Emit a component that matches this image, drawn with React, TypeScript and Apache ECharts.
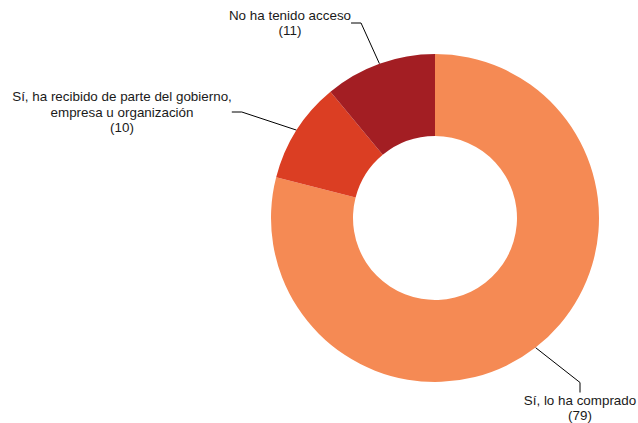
import React, { useEffect, useRef } from "react";
import * as echarts from "echarts";

const categories = [
  "Sí, lo ha comprado",
  "Sí, ha recibido de parte del gobierno,\nempresa u organización",
  "No ha tenido acceso",
];
const values = [79, 10, 11];
const colors = ["#F58A54", "#DB3E23", "#A31E23"];
const labelPositions = [
  { x: 580, y: 408 },
  { x: 122, y: 112 },
  { x: 290, y: 23 },
];

export default function App() {
  const ref = useRef<HTMLDivElement>(null);
  useEffect(() => {
    if (!ref.current) return;
    const chart = echarts.init(ref.current, undefined, { renderer: "svg" });
    chart.setOption({
      animation: false,
      backgroundColor: "#ffffff",
      series: [
        {
          type: "pie",
          center: [435, 218],
          radius: [82, 164],
          startAngle: 90,
          clockwise: true,
          avoidLabelOverlap: false,
          data: categories.map((name, i) => ({
            name,
            value: values[i],
            itemStyle: { color: colors[i] },
          })),
          label: {
            show: true,
            formatter: (p: any) => `${p.name}\n(${p.value})`,
            fontFamily: "Liberation Sans, Arial, sans-serif",
            fontSize: 13.4,
            lineHeight: 15.5,
            color: "#1a1a1a",
            align: "center",
            overflow: "none",
          },
          labelLine: {
            show: true,
            length: 20,
            length2: 10,
            lineStyle: { color: "#000000", width: 1 },
          },
          labelLayout: (params: any) => {
            const pos = labelPositions[params.dataIndex];
            return {
              x: pos.x,
              y: pos.y,
              align: "center",
              verticalAlign: "middle",
            };
          },
          emphasis: { disabled: true },
        },
      ],
    });
    return () => chart.dispose();
  }, []);
  return (
    <div
      ref={ref}
      style={{ position: "fixed", left: 0, top: 0, width: 638, height: 423 }}
    />
  );
}
